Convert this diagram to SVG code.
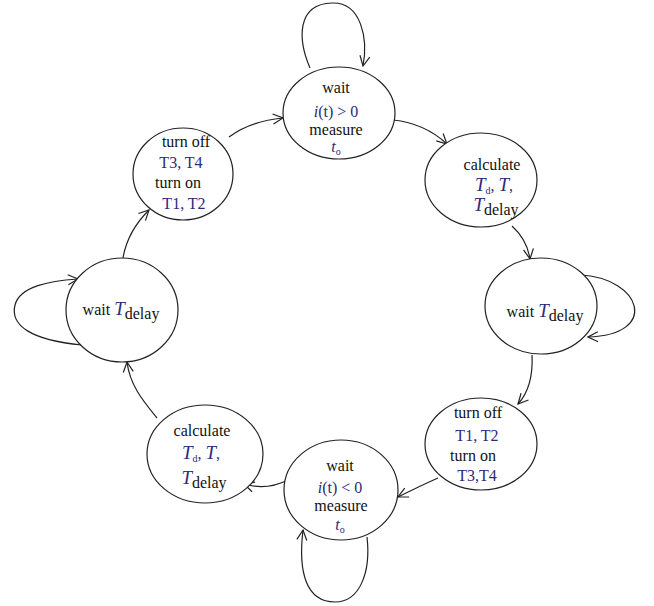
<svg xmlns="http://www.w3.org/2000/svg" width="654" height="606" viewBox="0 0 654 606">
<style>
.bg{fill:#ffffff}
.node{fill:#ffffff;stroke:#222;stroke-width:1.2}
.edge{fill:none;stroke:#222;stroke-width:1.2;marker-end:url(#arr)}
text{font-family:"Liberation Serif",serif;font-size:16px;fill:#111;text-anchor:middle}
.m{fill:#2e2a7a}
.i{font-style:italic}
.big{font-size:19px}
.sub{font-size:10px}
</style>
<defs>
<marker id="arr" viewBox="0 0 12 12" refX="11" refY="6" markerWidth="12" markerHeight="12" orient="auto" markerUnits="userSpaceOnUse">
<path d="M1,1 L11,6 L1,11" fill="none" stroke="#222" stroke-width="1.2"/>
</marker>
</defs>
<rect class="bg" x="0" y="0" width="654" height="606"/>
<g id="connectors">
<path class="edge" d="M310,68 C298,40 296,4 332,3 C362,2 368,40 363,66"/>
<path class="edge" d="M393,120 C412,122 432,130 447,144"/>
<path class="edge" d="M512,226 C522,235 528,246 530,259"/>
<path class="edge" d="M580,275 C642,278 660,335 588,337"/>
<path class="edge" d="M532,355 C533,375 529,392 518,404"/>
<path class="edge" d="M438,478 C420,486 410,491 398,497"/>
<path class="edge" d="M367,537 C371,572 360,602 335,602 C306,602 298,572 303,530"/>
<path class="edge" d="M288,480 C274,487 260,489 244,484"/>
<path class="edge" d="M157,418 C144,402 130,386 127,362"/>
<path class="edge" d="M82,345 C30,340 10,325 15,305 C20,286 50,281 78,279"/>
<path class="edge" d="M123,258 C126,240 135,224 149,210"/>
<path class="edge" d="M229,137 C245,125 262,120 283,118"/>
</g>
<g id="n_wait_pos">
<ellipse class="node" cx="339" cy="113" rx="56" ry="46"/>
<text x="336" y="93">wait</text>
<text class="m" x="336" y="117"><tspan class="i">i</tspan>(t) &gt; 0</text>
<text x="336" y="135">measure</text>
<text class="m" x="336" y="152"><tspan class="i">t</tspan><tspan class="sub" dy="3">o</tspan></text>
</g>
<g id="n_calc_right">
<ellipse class="node" cx="481" cy="180" rx="56" ry="47"/>
<text x="492" y="170">calculate</text>
<text class="m" x="494" y="191"><tspan class="i big">T</tspan><tspan class="sub" dy="3">d</tspan><tspan dy="-3">, </tspan><tspan class="i big">T</tspan><tspan>,</tspan></text>
<text x="496" y="211"><tspan class="i big m">T</tspan><tspan dy="4">delay</tspan></text>
</g>
<g id="n_wait_delay_right">
<ellipse class="node" cx="541" cy="306" rx="56" ry="48"/>
<text x="545" y="317">wait <tspan class="i big m">T</tspan><tspan dy="4">delay</tspan></text>
</g>
<g id="n_turn_right">
<ellipse class="node" cx="481" cy="444" rx="56" ry="46"/>
<text x="478" y="418">turn off</text>
<text class="m" x="477" y="441">T1, T2</text>
<text x="473" y="461">turn on</text>
<text class="m" x="477" y="481">T3,T4</text>
</g>
<g id="n_wait_neg">
<ellipse class="node" cx="341" cy="490" rx="57" ry="50"/>
<text x="340" y="471">wait</text>
<text class="m" x="340" y="493"><tspan class="i">i</tspan>(t) &lt; 0</text>
<text x="341" y="511">measure</text>
<text class="m" x="340" y="530"><tspan class="i">t</tspan><tspan class="sub" dy="3">o</tspan></text>
</g>
<g id="n_calc_left">
<ellipse class="node" cx="205" cy="454" rx="58" ry="49"/>
<text x="202" y="436">calculate</text>
<text class="m" x="201" y="459"><tspan class="i big">T</tspan><tspan class="sub" dy="3">d</tspan><tspan dy="-3">, </tspan><tspan class="i big">T</tspan><tspan>,</tspan></text>
<text x="204" y="484"><tspan class="i big m">T</tspan><tspan dy="4">delay</tspan></text>
</g>
<g id="n_wait_delay_left">
<ellipse class="node" cx="122" cy="310" rx="56" ry="52"/>
<text x="121" y="315">wait <tspan class="i big m">T</tspan><tspan dy="4">delay</tspan></text>
</g>
<g id="n_turn_left">
<ellipse class="node" cx="183" cy="174" rx="50" ry="46"/>
<text x="186" y="147">turn off</text>
<text class="m" x="181" y="168">T3, T4</text>
<text x="178" y="188">turn on</text>
<text class="m" x="184" y="209">T1, T2</text>
</g>
</svg>
